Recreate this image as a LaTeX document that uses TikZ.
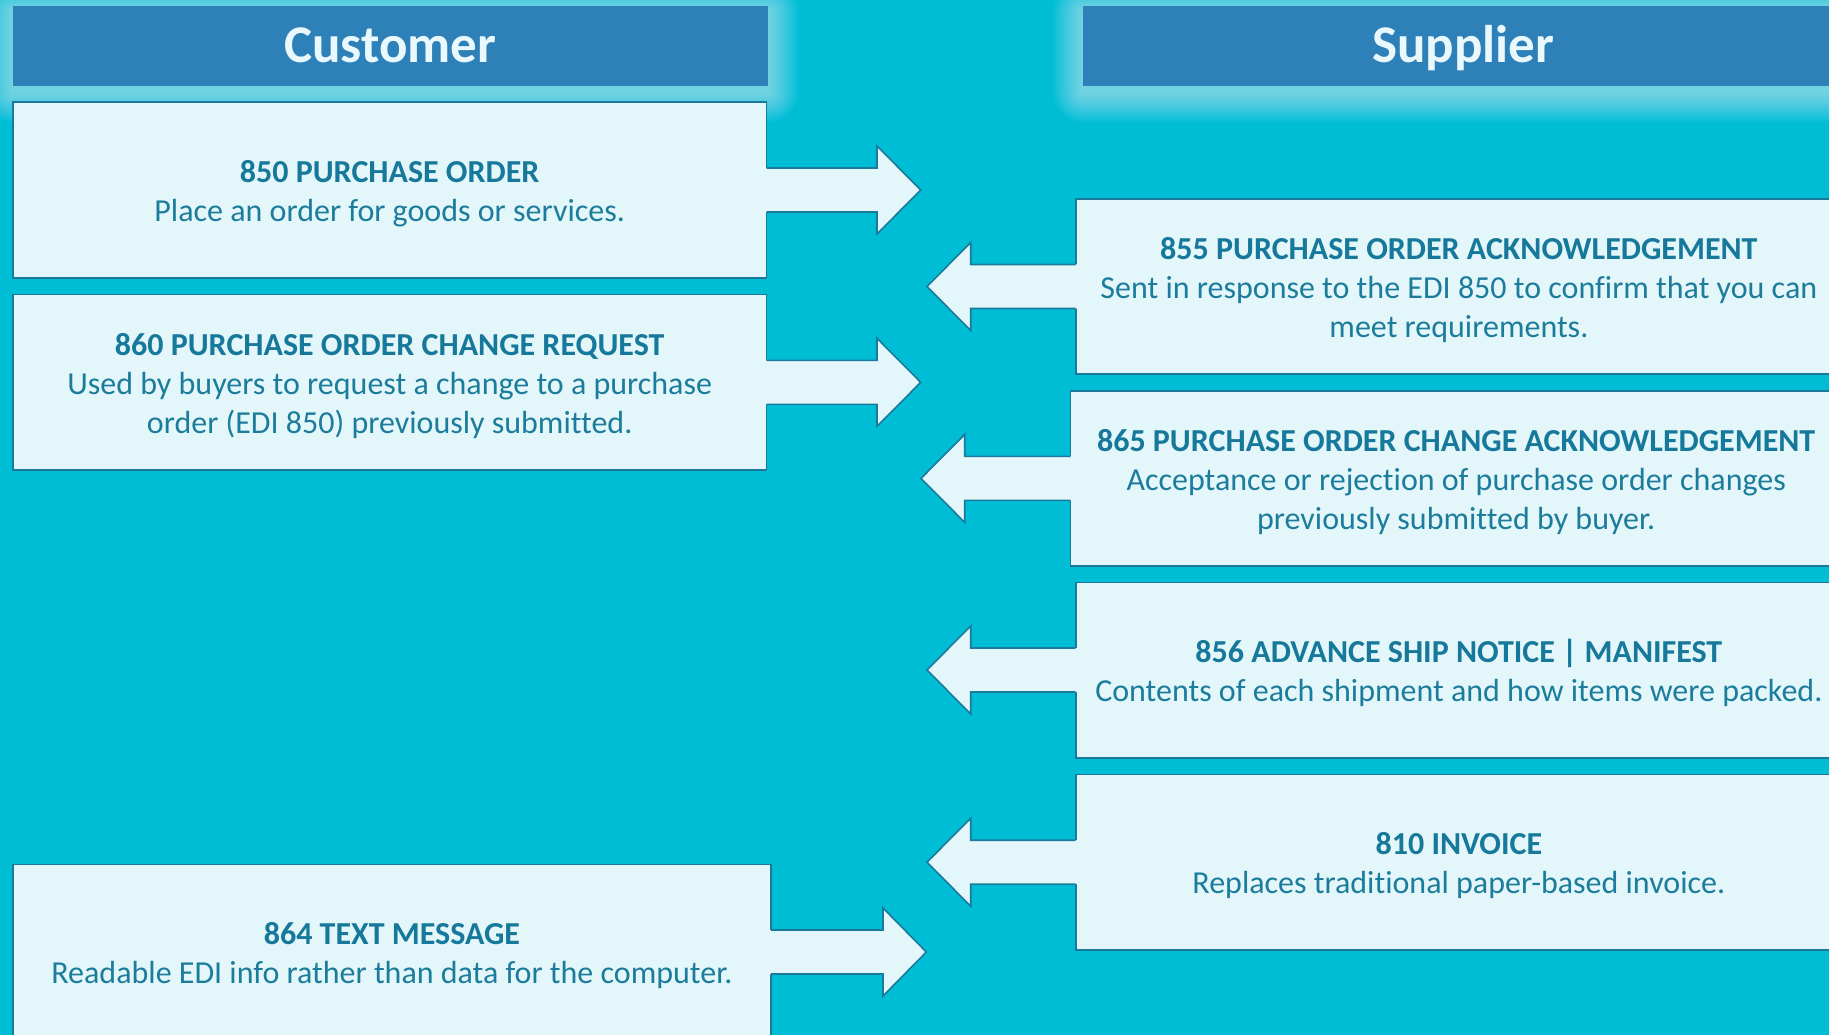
\documentclass[tikz,border=0pt]{standalone}
\usepackage{fontspec}
\setmainfont[Ligatures={NoCommon}]{Carlito}
\usetikzlibrary{calc}
\definecolor{bgcol}{RGB}{0,189,214}
\definecolor{hdrcol}{RGB}{46,128,184}
\definecolor{hdrtext}{RGB}{232,248,252}
\definecolor{boxfill}{RGB}{227,246,250}
\definecolor{edgecol}{RGB}{27,122,155}
\definecolor{titlecol}{RGB}{22,120,154}
\definecolor{bodycol}{RGB}{28,124,156}
\newcommand\ttl[1]{\rule{0pt}{24pt}\textcolor{titlecol}{\bfseries #1}}
\newcommand\bdy[1]{\textcolor{bodycol}{#1}}
% right-pointing block arrow merged with the east side of a box
\newcommand\myRarrow[3]{%
  \fill[boxfill] ($(#1.east)+(-1.5,-22)$) -- ++({#2+1.5},0) -- ++(0,-22) -- ++(#3,44) -- ++(-#3,44) -- ++(0,-22) -- ++({-#2-1.5},0) -- cycle;
  \draw[edgeline] ($(#1.east)+(0,-22)$) -- ++(#2,0) -- ++(0,-22) -- ++(#3,44) coordinate (#1tip) -- ++(-#3,44) -- ++(0,-22) -- ++(-#2,0);
}
% left-pointing block arrow merged with the west side of a box
\newcommand\myLarrow[3]{%
  \fill[boxfill] ($(#1.west)+(1.5,-22)$) -- ++({-#2-1.5},0) -- ++(0,-22) -- ++(-#3,44) -- ++(#3,44) -- ++(0,-22) -- ++({#2+1.5},0) -- cycle;
  \draw[edgeline] ($(#1.west)+(0,-22)$) -- ++(-#2,0) -- ++(0,-22) -- ++(-#3,44) coordinate (#1tip) -- ++(#3,44) -- ++(0,-22) -- ++(#2,0);
}
\tikzset{
  edgeline/.style={draw=edgecol, line width=1.6pt, line join=miter},
  infobox/.style={draw=edgecol, line width=1.6pt, fill=boxfill, outer sep=0pt,
    inner sep=0pt, minimum height=175.4pt, align=center, text depth=0pt,
    font=\fontsize{32pt}{39pt}\selectfont},
  header/.style={fill=hdrcol, outer sep=0pt, inner sep=0pt, minimum height=80pt,
    text=hdrtext, text height=33.5pt, text depth=0pt,
    font=\fontsize{53pt}{60pt}\selectfont\bfseries},
}
\begin{document}
\begin{tikzpicture}[x=1pt,y=-1pt]
\useasboundingbox (0,0) rectangle (1829,1035);
\clip (0,0) rectangle (1829,1035);
\fill[bgcol] (0,0) rectangle (1829,1035);

% header glows
\foreach \i in {1,...,20}{
  \fill[white, opacity=0.03, rounded corners={\i*1.5pt}] ({12.8-\i*1.5},{6-\i*1.5+6}) rectangle ({768+\i*1.5},{86+\i*1.5+6});
  \fill[white, opacity=0.03, rounded corners={\i*1.5pt}] ({1083.2-\i*1.5},{6-\i*1.5+6}) rectangle ({1843+\i*1.5},{86+\i*1.5+6});
}

% headers
\node[header, minimum width=755.2pt] (hcust) at (390.4,46) {Customer};
\node[header, minimum width=759.8pt] (hsupp) at (1463.1,46) {Supplier};

% customer boxes
\node[infobox, minimum width=753.7pt] (b850) at (389.65,190)
  {\ttl{850 PURCHASE ORDER}\\\bdy{Place an order for goods or services.}};
\node[infobox, minimum width=753.7pt] (b860) at (389.65,382.35)
  {\ttl{860 PURCHASE ORDER CHANGE REQUEST}\\\bdy{Used by buyers to request a change to a purchase}\\\bdy{order (EDI 850) previously submitted.}};
\node[infobox, minimum width=758.2pt] (b864) at (391.9,952)
  {\ttl{864 TEXT MESSAGE}\\\bdy{Readable EDI info rather than data for the computer.}};

% supplier boxes
\node[infobox, minimum width=766.3pt] (b855) at (1458.85,286.5)
  {\ttl{855 PURCHASE ORDER ACKNOWLEDGEMENT}\\\bdy{Sent in response to the EDI 850 to confirm that you can}\\\bdy{meet requirements.}};
\node[infobox, minimum width=771.7pt] (b865) at (1456.15,478.4)
  {\ttl{865 PURCHASE ORDER CHANGE ACKNOWLEDGEMENT}\\\bdy{Acceptance or rejection of purchase order changes}\\\bdy{previously submitted by buyer.}};
\node[infobox, minimum width=766.3pt] (b856) at (1458.85,670)
  {\ttl{856 ADVANCE SHIP NOTICE | MANIFEST}\\\bdy{Contents of each shipment and how items were packed.}};
\node[infobox, minimum width=766.3pt] (b810) at (1458.85,862.2)
  {\ttl{810 INVOICE}\\\bdy{Replaces traditional paper-based invoice.}};

% block arrows
\myRarrow{b850}{110.5}{43.7}
\myRarrow{b860}{110.5}{43.7}
\myRarrow{b864}{112}{43.3}
\myLarrow{b855}{105}{43.7}
\myLarrow{b865}{105.6}{43.7}
\myLarrow{b856}{105}{43.7}
\myLarrow{b810}{105}{43.7}
\end{tikzpicture}
\end{document}
